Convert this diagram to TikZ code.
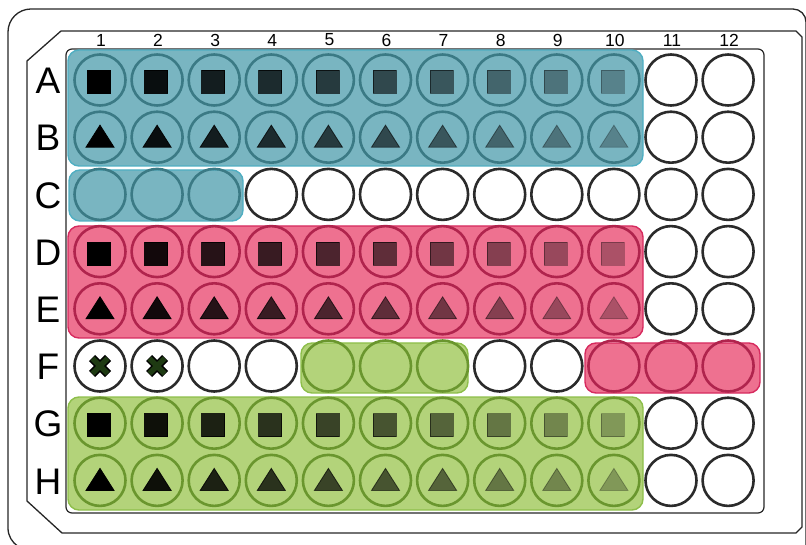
\documentclass[tikz,border=0pt]{standalone}
\usepackage{fontspec}
\setmainfont{Liberation Sans}
\definecolor{tealfill}{HTML}{79B5C1}
\definecolor{tealedge}{HTML}{4FAEC2}
\definecolor{tealring}{HTML}{3B7A85}
\definecolor{pinkfill}{HTML}{EE7190}
\definecolor{pinkedge}{HTML}{D62A5E}
\definecolor{pinkring}{HTML}{B0244D}
\definecolor{greenfill}{HTML}{B3D37A}
\definecolor{greenedge}{HTML}{8DBE4A}
\definecolor{greenring}{HTML}{6A962E}
\definecolor{wellring}{HTML}{2B2B2B}
\definecolor{crossgreen}{HTML}{1E3A12}
\begin{document}
\begin{tikzpicture}[x=1pt,y=-1pt,
  platebord/.style={draw=black!85, line width=1.3pt},
  region/.style={rounded corners=11pt, line width=1.4pt},
  tealreg/.style={region, fill=tealfill, draw=tealedge},
  pinkreg/.style={region, fill=pinkfill, draw=pinkedge},
  greenreg/.style={region, fill=greenfill, draw=greenedge},
  well/.style={circle, minimum size=51pt, inner sep=0pt, line width=2.6pt},
  rowlab/.style={font=\fontsize{37}{37}\selectfont, inner sep=0pt},
  collab/.style={font=\fontsize{17.5}{17.5}\selectfont, inner sep=0pt}]
\useasboundingbox (0,0) rectangle (806,545);
\begin{scope}
\clip (0,0) rectangle (806,545);
% outer plate outline
\draw[platebord] (40,553) to[out=180,in=-90] (8,528) -- (8,32) to[out=90,in=180] (31,9) -- (793,9)
  to[out=0,in=90] (806,22) -- (806,560);
\end{scope}
% middle outline with chamfered corners
\draw[platebord] (61,31) -- (796,31) -- (802,37) -- (802,527) -- (796,533)
  -- (62,533) -- (27,501) -- (27,61) -- cycle;
% inner well area
\draw[draw=black!85, line width=1.2pt, rounded corners=6pt] (66,49) rectangle (764,513);
% coloured regions
\draw[tealreg] (68,50) rectangle (643,166);
\draw[tealreg] (69,170) rectangle (243,221);
\draw[pinkreg] (68,226) rectangle (643,338);
\draw[pinkreg] (585,343) rectangle (760,393);
\draw[greenreg] (301,343) rectangle (468,393);
\draw[greenreg] (68,397) rectangle (643,510);
% column labels
\foreach \c in {1,...,12}{
  \pgfmathsetmacro\x{100+57.1*(\c-1)}
  \node[collab] (col\c) at (\x+1,40) {\c};
}
% row labels
\foreach \r/\L in {1/A,2/B,3/C,4/D,5/E,6/F,7/G,8/H}{
  \pgfmathsetmacro\y{80+57.2*(\r-1)}
  \node[rowlab] (row\L) at (48,\y+1) {\L};
}
% wells
\foreach \r in {1,...,8}{
  \foreach \c in {1,...,12}{
    \pgfmathsetmacro\x{100+57.1*(\c-1)}
    \pgfmathsetmacro\y{80+57.2*(\r-1)}
    \pgfmathtruncatemacro\reg{((\r<=2 && \c<=10) || (\r==3 && \c<=3)) ? 1 :
      (((\r>=4 && \r<=5 && \c<=10) || (\r==6 && \c>=10)) ? 2 :
      (((\r>=7 && \c<=10) || (\r==6 && \c>=5 && \c<=7)) ? 3 : 0))}
    \ifcase\reg
      \node[well, draw=wellring, fill=white] (w-\r-\c) at (\x,\y) {};
    \or
      \node[well, draw=tealring] (w-\r-\c) at (\x,\y) {};
    \or
      \node[well, draw=pinkring] (w-\r-\c) at (\x,\y) {};
    \or
      \node[well, draw=greenring] (w-\r-\c) at (\x,\y) {};
    \fi
    \pgfmathsetmacro\op{1-(\c-1)*0.08}
    \pgfmathtruncatemacro\kind{(\c<=10) ? ((\r==1 || \r==4 || \r==7) ? 1 : ((\r==2 || \r==5 || \r==8) ? 2 : 0)) : 0}
    \ifcase\kind
    \or
      \node[draw=black, line width=0.8pt, fill=black, fill opacity=\op, draw opacity=\op,
            minimum size=23pt, inner sep=0pt] (s-\r-\c) at (\x-1,\y+2) {};
    \or
      \draw[draw=black, line width=0.8pt, fill=black, fill opacity=\op, draw opacity=\op]
        (\x,\y-12) -- (\x+14,\y+10) -- (\x-14,\y+10) -- cycle;
    \fi
  }
}
% crosses in F1 and F2
\foreach \c in {1,2}{
  \draw[line width=8.5pt, black] ([shift={(-8,-8)}]w-6-\c.center) -- ([shift={(8,8)}]w-6-\c.center)
    ([shift={(-8,8)}]w-6-\c.center) -- ([shift={(8,-8)}]w-6-\c.center);
  \draw[line width=5.5pt, crossgreen] ([shift={(-7.6,-7.6)}]w-6-\c.center) -- ([shift={(7.6,7.6)}]w-6-\c.center)
    ([shift={(-7.6,7.6)}]w-6-\c.center) -- ([shift={(7.6,-7.6)}]w-6-\c.center);
}
\end{tikzpicture}
\end{document}
